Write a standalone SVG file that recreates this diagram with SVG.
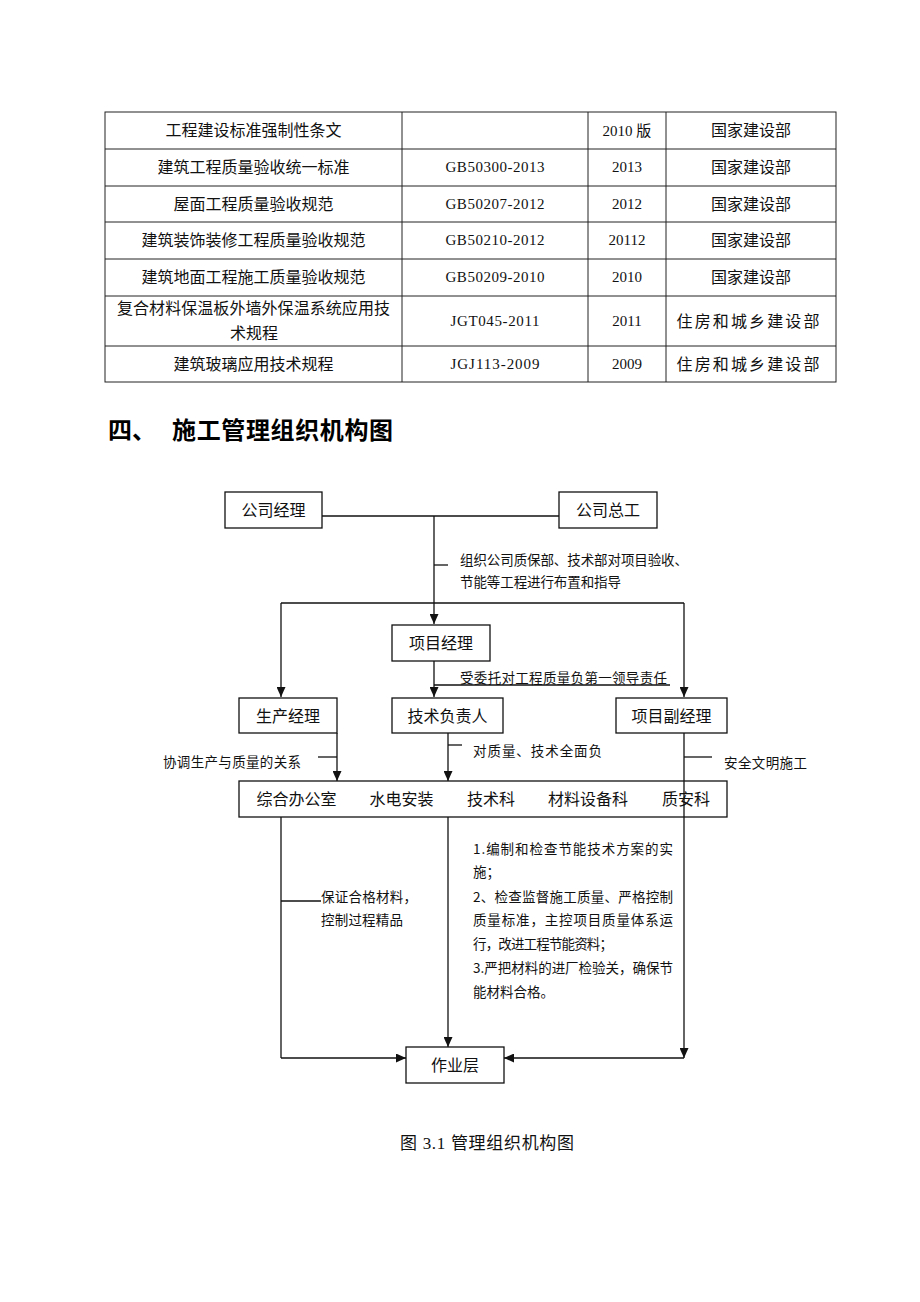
<svg xmlns="http://www.w3.org/2000/svg" width="920" height="1302" viewBox="0 0 920 1302">
<style>
.bg{fill:#fff}
.grid{stroke:#222;stroke-width:1;fill:none}
.t{font-family:"Noto Sans CJK SC","Liberation Sans",sans-serif;font-size:16px;fill:#111}
.tc{text-anchor:middle}
.code{font-family:"Liberation Serif","Noto Sans CJK SC",serif;font-size:15px;fill:#111;text-anchor:middle}
.h{font-family:"Noto Sans CJK SC","Liberation Sans",sans-serif;font-size:24px;font-weight:bold;fill:#000}
.box{fill:#fff;stroke:#111;stroke-width:1.3}
.bt{font-family:"Noto Sans CJK SC","Liberation Sans",sans-serif;font-size:16px;fill:#111;text-anchor:middle}
.s{font-family:"Noto Sans CJK SC","Liberation Sans",sans-serif;font-size:13.5px;fill:#111}
.ln{stroke:#111;stroke-width:1.3;fill:none}
.cap{font-family:"Liberation Serif","Noto Sans CJK SC",serif;font-size:17px;fill:#111}
</style>
<defs>
<marker id="ah" markerUnits="userSpaceOnUse" markerWidth="10" markerHeight="9" refX="10" refY="4.5" orient="auto">
<path d="M0,0 L10,4.5 L0,9 z" fill="#111"/>
</marker>
</defs>
<rect class="bg" x="0" y="0" width="920" height="1302"/>

<g id="table">
<rect class="grid" x="105" y="112" width="731" height="270"/>
<path class="grid" d="M105,149H836M105,186H836M105,222H836M105,259H836M105,296H836M105,346H836M402,112V382M588,112V382M666,112V382"/>
<text class="t tc" x="253.5" y="136">工程建设标准强制性条文</text>
<text class="code" x="627" y="136">2010 版</text>
<text class="t tc" x="751" y="136">国家建设部</text>
<text class="t tc" x="253.5" y="173">建筑工程质量验收统一标准</text>
<text class="code" x="495" y="172" textLength="99">GB50300-2013</text>
<text class="code" x="627" y="172">2013</text>
<text class="t tc" x="751" y="173">国家建设部</text>
<text class="t tc" x="253.5" y="210">屋面工程质量验收规范</text>
<text class="code" x="495" y="209" textLength="99">GB50207-2012</text>
<text class="code" x="627" y="209">2012</text>
<text class="t tc" x="751" y="210">国家建设部</text>
<text class="t tc" x="253.5" y="246">建筑装饰装修工程质量验收规范</text>
<text class="code" x="495" y="245" textLength="99">GB50210-2012</text>
<text class="code" x="627" y="245">20112</text>
<text class="t tc" x="751" y="246">国家建设部</text>
<text class="t tc" x="253.5" y="283">建筑地面工程施工质量验收规范</text>
<text class="code" x="495" y="282" textLength="99">GB50209-2010</text>
<text class="code" x="627" y="282">2010</text>
<text class="t tc" x="751" y="283">国家建设部</text>
<text class="t" x="117" y="314" textLength="273">复合材料保温板外墙外保温系统应用技</text>
<text class="t tc" x="254" y="339">术规程</text>
<text class="code" x="495" y="326" textLength="89">JGT045-2011</text>
<text class="code" x="627" y="326">2011</text>
<text class="t tc" x="748" y="327" textLength="143">住房和城乡建设部</text>
<text class="t tc" x="253.5" y="370">建筑玻璃应用技术规程</text>
<text class="code" x="495" y="369" textLength="89">JGJ113-2009</text>
<text class="code" x="627" y="369">2009</text>
<text class="t tc" x="748" y="370" textLength="143">住房和城乡建设部</text>
</g>

<g id="heading">
<text class="h" x="108" y="439">四、</text>
<text class="h" x="172" y="439" textLength="221">施工管理组织机构图</text>
</g>

<g id="connectors">
<line class="ln" x1="322" y1="516" x2="559" y2="516"/>
<line class="ln" x1="434" y1="516" x2="434" y2="624" marker-end="url(#ah)"/>
<line class="ln" x1="434" y1="565" x2="448" y2="565"/>
<line class="ln" x1="281" y1="603" x2="684" y2="603"/>
<line class="ln" x1="281" y1="603" x2="281" y2="697" marker-end="url(#ah)"/>
<line class="ln" x1="684" y1="603" x2="684" y2="697" marker-end="url(#ah)"/>
<line class="ln" x1="434" y1="661" x2="434" y2="697" marker-end="url(#ah)"/>
<line class="ln" x1="434" y1="685" x2="670" y2="685"/>
<line class="ln" x1="337" y1="733" x2="337" y2="781" marker-end="url(#ah)"/>
<line class="ln" x1="318" y1="757" x2="337" y2="757"/>
<line class="ln" x1="448" y1="733" x2="448" y2="781" marker-end="url(#ah)"/>
<line class="ln" x1="448" y1="745" x2="462" y2="745"/>
<line class="ln" x1="684" y1="757" x2="712" y2="757"/>
<line class="ln" x1="281" y1="817" x2="281" y2="1058"/>
<line class="ln" x1="281" y1="1058" x2="406" y2="1058" marker-end="url(#ah)"/>
<line class="ln" x1="281" y1="901" x2="321" y2="901"/>
<line class="ln" x1="448" y1="817" x2="448" y2="1047" marker-end="url(#ah)"/>
<line class="ln" x1="684" y1="1058" x2="504" y2="1058" marker-end="url(#ah)"/>
</g>

<g id="n-gsjl"><rect class="box" x="225" y="492" width="97" height="36"/><text class="bt" x="273.5" y="516">公司经理</text></g>
<g id="n-gszg"><rect class="box" x="559" y="492" width="98" height="36"/><text class="bt" x="608" y="516">公司总工</text></g>
<g id="n-xmjl"><rect class="box" x="392" y="625" width="98" height="36"/><text class="bt" x="441" y="649">项目经理</text></g>
<g id="n-scjl"><rect class="box" x="239" y="698" width="98" height="35"/><text class="bt" x="288" y="721.5">生产经理</text></g>
<g id="n-jsfzr"><rect class="box" x="392" y="698" width="111" height="35"/><text class="bt" x="447.5" y="721.5">技术负责人</text></g>
<g id="n-xmfjl"><rect class="box" x="616" y="698" width="111" height="35"/><text class="bt" x="671.5" y="721.5">项目副经理</text></g>
<g id="n-depts"><rect class="box" x="239" y="781" width="488" height="36"/>
<text class="bt" x="296.5" y="805">综合办公室</text>
<text class="bt" x="401.5" y="805">水电安装</text>
<text class="bt" x="491" y="805">技术科</text>
<text class="bt" x="588" y="805">材料设备科</text>
<text class="bt" x="686" y="805">质安科</text>
</g>
<line class="ln" x1="684" y1="733" x2="684" y2="1058" marker-end="url(#ah)"/>
<g id="n-zyc"><rect class="box" x="406" y="1047" width="98" height="36"/><text class="bt" x="455" y="1071">作业层</text></g>

<g id="labels">
<text class="s" x="460" y="565" textLength="228">组织公司质保部、技术部对项目验收、</text>
<text class="s" x="460" y="587" textLength="161">节能等工程进行布置和指导</text>
<text class="s" x="460" y="683" textLength="207">受委托对工程质量负第一领导责任</text>
<text class="s" x="473" y="756" textLength="129">对质量、技术全面负</text>
<text class="s" x="163" y="767" textLength="138">协调生产与质量的关系</text>
<text class="s" x="724" y="768" textLength="83">安全文明施工</text>
<text class="s" x="321" y="902" textLength="96">保证合格材料，</text>
<text class="s" x="321" y="925" textLength="82">控制过程精品</text>
<text class="s" x="473" y="854" textLength="200">1.编制和检查节能技术方案的实</text>
<text class="s" x="473" y="877">施；</text>
<text class="s" x="473" y="902" textLength="200">2、检查监督施工质量、严格控制</text>
<text class="s" x="473" y="925" textLength="200">质量标准，主控项目质量体系运</text>
<text class="s" x="473" y="949" textLength="140">行，改进工程节能资料；</text>
<text class="s" x="473" y="973" textLength="200">3.严把材料的进厂检验关，确保节</text>
<text class="s" x="473" y="997">能材料合格。</text>
</g>

<g id="caption">
<text class="cap" x="400" y="1149" textLength="174">图 3.1 管理组织机构图</text>
</g>
</svg>
